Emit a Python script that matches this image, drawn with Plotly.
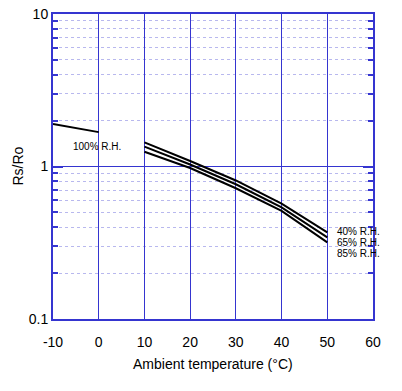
import math
import plotly.graph_objects as go

# Data
x_100 = [-10, 0]
y_100 = [1.90, 1.68]

x_rh = [10, 20, 30, 40, 50]
y_40 = [1.44, 1.087, 0.81, 0.57, 0.37]
y_65 = [1.35, 1.03, 0.765, 0.54, 0.343]
y_85 = [1.25, 0.978, 0.72, 0.512, 0.318]

x_ticks = [-10, 0, 10, 20, 30, 40, 50, 60]
x_tick_text = ["-10", "0", "10", "20", "30", "40", "50", "60"]
y_ticks = [0.1, 1, 10]
y_tick_text = ["0.1", "1", "10"]
y_minor = [0.2, 0.3, 0.4, 0.5, 0.6, 0.7, 0.8, 0.9, 2, 3, 4, 5, 6, 7, 8, 9]

BLUE = "#3535d0"
LIGHT = "#b8b8ee"
FONT = "Liberation Sans, Arial, sans-serif"

fig = go.Figure()
for xs, ys in [(x_100, y_100), (x_rh, y_40), (x_rh, y_65), (x_rh, y_85)]:
    fig.add_trace(go.Scatter(x=xs, y=ys, mode="lines",
                             line=dict(color="black", width=2),
                             showlegend=False, hoverinfo="skip"))

annots = [
    dict(x=-0.3, y=1.35, text="100% R.H.", xanchor="center"),
    dict(x=51.7, y=0.375, text="40% R.H.", xanchor="left"),
    dict(x=51.7, y=0.318, text="65% R.H.", xanchor="left"),
    dict(x=51.7, y=0.27, text="85% R.H.", xanchor="left"),
]
for a in annots:
    fig.add_annotation(x=a["x"], y=math.log10(a["y"]), yref="y", xref="x", text=a["text"],
                       xanchor=a["xanchor"], yanchor="middle", showarrow=False,
                       font=dict(size=10, color="black", family=FONT))

# Axis titles placed as annotations relative to plot area
fig.add_annotation(x=0.5, y=0, xref="paper", yref="paper", text="Ambient temperature (°C)",
                   showarrow=False, xanchor="center", yanchor="middle", yshift=-45,
                   font=dict(size=14, color="black", family=FONT))
fig.add_annotation(x=0, y=0.5, xref="paper", yref="paper", text="Rs/Ro", textangle=-90,
                   showarrow=False, xanchor="center", yanchor="middle", xshift=-36,
                   font=dict(size=14, color="black", family=FONT))

fig.update_layout(
    width=402, height=391,
    margin=dict(l=53, r=29, t=14, b=72),
    paper_bgcolor="white", plot_bgcolor="white",
    font=dict(family=FONT, size=14, color="black"),
    xaxis=dict(range=[-10, 60], tickvals=x_ticks, ticktext=x_tick_text, showgrid=True,
               gridcolor=BLUE, gridwidth=1, zeroline=False, automargin=False,
               showline=True, linecolor=BLUE, linewidth=2, mirror=True,
               ticks="outside", ticklen=9, tickcolor="rgba(0,0,0,0)",
               tickfont=dict(size=14), ticklabeloverflow="allow"),
    yaxis=dict(type="log", range=[-1, 1], tickvals=y_ticks, ticktext=y_tick_text,
               showgrid=True, gridcolor=BLUE, gridwidth=1, zeroline=False, automargin=False,
               showline=True, linecolor=BLUE, linewidth=2, mirror="ticks",
               ticks="inside", ticklen=10, tickcolor=BLUE, tickwidth=1.5,
               tickfont=dict(size=14), ticklabeloverflow="allow",
               minor=dict(tickvals=y_minor, showgrid=True, gridcolor=LIGHT,
                          griddash="dot", gridwidth=1, ticks="inside",
                          ticklen=5, tickcolor=BLUE, tickwidth=1.5)),
)

fig.write_html("out.html", config={"displayModeBar": False},
               post_script="document.body.style.margin='0';")
